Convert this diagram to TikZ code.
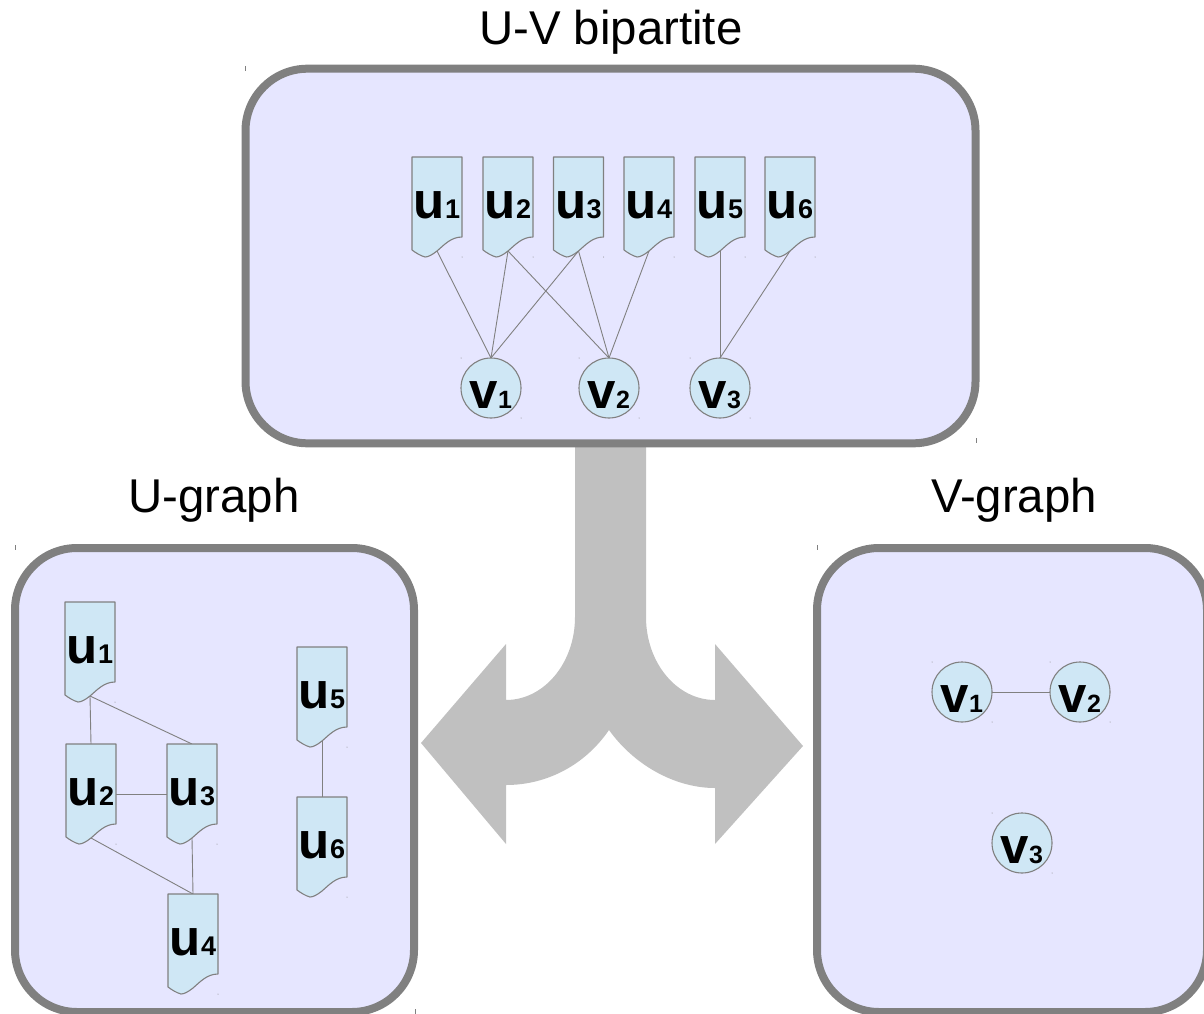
\documentclass[tikz,border=0pt]{standalone}
\usepackage{fontspec}
\setmainfont{Liberation Sans}
\definecolor{panelfill}{HTML}{E6E6FF}
\definecolor{panelline}{HTML}{808080}
\definecolor{itemfill}{HTML}{CFE7F5}
\definecolor{arrowgray}{HTML}{C0C0C0}
\pgfdeclarelayer{panels}
\pgfdeclarelayer{edges}
\pgfsetlayers{panels,edges,main}
\tikzset{
  x=1pt,y=-1pt,
  panelbox/.style={draw=panelline,fill=panelfill,line width=8pt,rounded corners=62pt,inner sep=0pt},
  titletext/.style={font=\fontsize{47.4}{47.4}\selectfont,inner sep=0pt,anchor=base},
  docoutline/.style={draw=panelline,fill=itemfill,line width=1.1pt,line join=round},
  doclabel/.style={inner sep=0pt,outer sep=0pt,minimum width=50pt,minimum height=100pt,text height=61pt,text depth=39pt},
  vertexnode/.style={circle,draw=panelline,fill=itemfill,line width=1.1pt,inner sep=0pt,outer sep=0pt,minimum size=60pt,text height=41pt,text depth=0pt},
  edgeline/.style={draw=panelline,line width=0.9pt},
  speck/.style={fill=panelline,draw=none},
  tick/.style={draw=panelline,line width=0.6pt},
}
\newcommand{\itemtext}[3]{{\fontsize{51}{51}\selectfont\bfseries #1\fontsize{#3}{#3}\selectfont #2}}
\newcommand{\docu}[4]{%
  \path[docoutline] (#2,#3) -- (#2+50,#3) -- (#2+50,#3+80)
    .. controls (#2+39,#3+80) and (#2+32,#3+88) .. (#2+25,#3+94)
    .. controls (#2+20,#3+98) and (#2+16,#3+100) .. (#2+13,#3+100)
    .. controls (#2+9,#3+99) and (#2+4,#3+96) .. (#2,#3+93) -- cycle;
  \path[speck] (#2+50,#3+100) circle (0.5pt);
  \node[doclabel] (#1) at (#2+25,#3+50) {\itemtext{u}{#4}{27}};
}
\newcommand{\vertex}[4]{%
  \node[vertexnode] (#1) at (#2,#3) {\itemtext{v}{#4}{25}};
  \path[speck] (#2-30,#3-30) circle (0.5pt) (#2+30,#3+30) circle (0.5pt);
}
\begin{document}
\begin{tikzpicture}
\useasboundingbox (0,0) rectangle (1204,1014);
\begin{pgfonlayer}{panels}
  \fill[arrowgray] (575,445) -- (575,617)
    .. controls (575,663) and (544,700) .. (506,700)
    -- (506,644) -- (421,743) -- (506,844) -- (506,785)
    .. controls (547,785) and (585,765) .. (609,730)
    .. controls (634,765) and (675,788) .. (715,788)
    -- (715,844) -- (803,746) -- (715,644) -- (715,700)
    .. controls (677,700) and (646,663) .. (646,617)
    -- (646,445) -- cycle;
  \node[panelbox,minimum width=730pt,minimum height=374.6pt] (top) at (610.5,256) {};
  \node[panelbox,minimum width=399pt,minimum height=464pt] (left) at (214.5,780) {};
  \node[panelbox,minimum width=390pt,minimum height=464pt] (right) at (1012,780) {};
\end{pgfonlayer}

\node[titletext] (t1) at (610.8,45) {U-V bipartite};
\node[titletext] (t2) at (214,512) {U-graph};
\node[titletext] (t3) at (1014,512) {V-graph};

% stray handle ticks
\draw[tick] (245,66) -- (245,71) (976,438) -- (976,443) (15,545) -- (15,550)
  (415,1009) -- (415,1014) (817,545) -- (817,550);

% top panel
\docu{a1}{412}{157}{1}
\docu{a2}{483}{157}{2}
\docu{a3}{553.5}{157}{3}
\docu{a4}{624}{157}{4}
\docu{a5}{695}{157}{5}
\docu{a6}{765}{157}{6}
\vertex{b1}{491}{388}{1}
\vertex{b2}{609}{388}{2}
\vertex{b3}{720}{388}{3}

% left panel
\docu{c1}{65}{602}{1}
\docu{c2}{66}{744}{2}
\docu{c3}{167}{744}{3}
\docu{c4}{168}{894}{4}
\docu{c5}{297}{647}{5}
\docu{c6}{297}{797}{6}

% right panel
\vertex{d1}{962}{692}{1}
\vertex{d2}{1080}{692}{2}
\vertex{d3}{1022}{843}{3}

\begin{pgfonlayer}{edges}
  \draw[edgeline] ([yshift=6pt]a1.south) -- (b1.north);
  \draw[edgeline] ([yshift=6pt]a2.south) -- (b1.north);
  \draw[edgeline] ([yshift=6pt]a3.south) -- (b1.north);
  \draw[edgeline] ([yshift=6pt]a2.south) -- (b2.north);
  \draw[edgeline] ([yshift=6pt]a3.south) -- (b2.north);
  \draw[edgeline] ([yshift=6pt]a4.south) -- (b2.north);
  \draw[edgeline] ([yshift=6pt]a5.south) -- (b3.north);
  \draw[edgeline] ([yshift=6pt]a6.south) -- (b3.north);
  \draw[edgeline] ([yshift=6pt]c1.south) -- (c2.north);
  \draw[edgeline] ([yshift=6pt]c1.south) -- (c3.north);
  \draw[edgeline] (c2.east) -- (c3.west);
  \draw[edgeline] ([yshift=6pt]c2.south) -- (c4.north);
  \draw[edgeline] ([yshift=6pt]c3.south) -- (c4.north);
  \draw[edgeline] ([yshift=6pt]c5.south) -- (c6.north);
  \draw[edgeline] (d1.east) -- (d2.west);
\end{pgfonlayer}
\end{tikzpicture}
\end{document}
